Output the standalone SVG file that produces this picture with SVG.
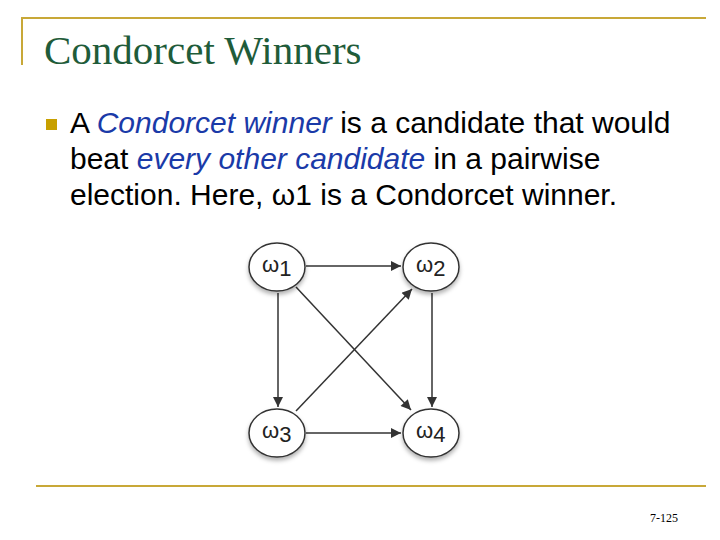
<svg xmlns="http://www.w3.org/2000/svg" width="720" height="540" viewBox="0 0 720 540">
<defs>
<style>
.frame{stroke:#c8a838;stroke-width:2;fill:none}
.body{font-family:"Liberation Sans",Arial,sans-serif;font-size:30px;fill:#000}
.em{font-style:italic;fill:#1a3aa8}
.node ellipse{fill:#fff;stroke:#333;stroke-width:1.5}
.node text{font-family:"Liberation Sans",Arial,sans-serif;font-size:22px;fill:#222}
.edge{stroke:#333;stroke-width:1.5;fill:none;marker-end:url(#ah)}
</style>
<marker id="ah" viewBox="0 0 10 10" refX="10" refY="5" markerWidth="12" markerHeight="10" orient="auto" markerUnits="userSpaceOnUse"><path d="M0,0L10,5L0,10z" fill="#333"/></marker>
<filter id="sh" x="-30%" y="-30%" width="160%" height="170%"><feDropShadow dx="0" dy="3" stdDeviation="2" flood-color="#000" flood-opacity="0.3"/></filter>
</defs>
<rect width="720" height="540" fill="#fff"/>
<path class="frame" d="M22,65V18H706"/>
<path class="frame" d="M36,486H706"/>
<text x="44" y="64" font-family="Liberation Serif,Times New Roman,serif" font-size="41" fill="#1f5c3a">Condorcet Winners</text>
<rect x="46" y="119" width="11" height="11" fill="#c8a000"/>
<text class="body" x="70" y="133">A <tspan class="em">Condorcet winner</tspan> is a candidate that would</text>
<text class="body" x="70" y="169">beat <tspan class="em">every other candidate</tspan> in a pairwise</text>
<text class="body" x="70" y="205">election. Here, ω1 is a Condorcet winner.</text>
<g id="edges">
<line class="edge" x1="306" y1="266" x2="401" y2="266"/>
<line class="edge" x1="278" y1="293" x2="278" y2="407"/>
<line class="edge" x1="296" y1="287" x2="411" y2="410"/>
<line class="edge" x1="296" y1="411" x2="412" y2="289"/>
<line class="edge" x1="432" y1="293" x2="432" y2="407"/>
<line class="edge" x1="306" y1="433" x2="401" y2="433"/>
</g>
<g id="w1" class="node"><ellipse cx="277" cy="267" rx="28" ry="24" filter="url(#sh)"/><text x="262" y="272">ω<tspan font-size="22" dy="4">1</tspan></text></g>
<g id="w2" class="node"><ellipse cx="431" cy="267" rx="28" ry="24" filter="url(#sh)"/><text x="416" y="272">ω<tspan font-size="22" dy="4">2</tspan></text></g>
<g id="w3" class="node"><ellipse cx="277" cy="433" rx="28" ry="24" filter="url(#sh)"/><text x="262" y="438">ω<tspan font-size="22" dy="4">3</tspan></text></g>
<g id="w4" class="node"><ellipse cx="431" cy="433" rx="28" ry="24" filter="url(#sh)"/><text x="416" y="438">ω<tspan font-size="22" dy="4">4</tspan></text></g>
<text x="650" y="522" font-family="Liberation Serif,serif" font-size="12" fill="#000">7-125</text>
</svg>
